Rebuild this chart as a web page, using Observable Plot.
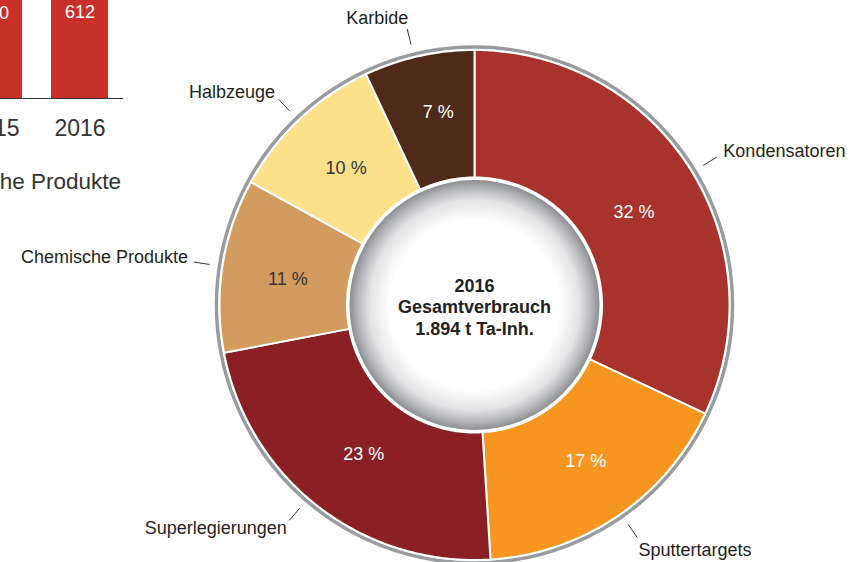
<!DOCTYPE html>
<html><head><meta charset="utf-8">
<script src="https://cdn.jsdelivr.net/npm/d3@7"></script>
<script src="https://cdn.jsdelivr.net/npm/@observablehq/plot@0.6"></script>
<style>
html,body{margin:0;padding:0;background:#fff;}
#stage{position:relative;width:863px;height:562px;overflow:hidden;font-family:"Liberation Sans",Arial,sans-serif;}
#stage svg{position:absolute;left:0;top:0;}
#barTitle{position:absolute;right:742px;top:170px;font-size:22.5px;line-height:24px;color:#333;white-space:nowrap;}
</style></head><body><div id="stage"><div id="barTitle"></div></div>
<script>
// ---- data ----
const categories = ["Kondensatoren","Sputtertargets","Superlegierungen","Chemische Produkte","Halbzeuge","Karbide"];
const shares = [32,17,23,11,10,7];
const centerLines = ["2016","Gesamtverbrauch","1.894 t Ta-Inh."];
const barYears = ["2015","2016"];
const barValues = [610,612];
const barTitle = "Chemische Produkte";

// ---- styles ----
const sliceColors = ["#a8332d","#f4961f","#8a1f24","#d39c5f","#fde08a","#502a18"];
const percentInk = ["#ffffff","#ffffff","#ffffff","#333333","#333333","#ffffff"];
const FONT = '"Liberation Sans", Arial, sans-serif';

// ---- layout ----
const W = 863, H = 562;
const cx = 474, cy = 304.5;
const rOuter = 255, rInner = 127.5, rRing = 258, rHole = 125;
const rPct = 189, rLead0 = 268, rLead1 = 284, rLabel = 290;
const labelNudge = {
  "Karbide": [-3,-4], "Kondensatoren": [4,2], "Sputtertargets": [1,5],
  "Chemische Produkte": [0,-2], "Halbzeuge": [-1,-1], "Superlegierungen": [-10,-6]
};
const pctNudge = {
  "Karbide": [5,-8], "Kondensatoren": [0,9], "Sputtertargets": [5,0],
  "Chemische Produkte": [0,4], "Halbzeuge": [1,1], "Superlegierungen": [5,0]
};
const leaderTurnDeg = {
  "Karbide": -1.1, "Kondensatoren": 1, "Sputtertargets": -0.8,
  "Chemische Produkte": -0.3, "Halbzeuge": -0.4, "Superlegierungen": 2.9
};

const pt = (r, a) => ({x: cx + r * Math.sin(a), y: cy - r * Math.cos(a)});
const lead = d => d.mid + leaderTurnDeg[d.name] * Math.PI / 180;

const rows = categories.map((name, i) => ({name, share: shares[i], color: sliceColors[i], ink: percentInk[i]}));
const arcs = d3.pie().sort(null).value(d => d.share)(rows);
const slices = arcs.map(a => {
  const step = Math.PI / 360;
  const n = Math.max(2, Math.ceil((a.endAngle - a.startAngle) / step) + 1);
  const outer = d3.range(n).map(k => pt(rOuter, a.startAngle + (a.endAngle - a.startAngle) * k / (n - 1)));
  const inner = d3.range(n).map(k => pt(rInner, a.endAngle - (a.endAngle - a.startAngle) * k / (n - 1)));
  const mid = (a.startAngle + a.endAngle) / 2;
  return {...a.data, mid, points: [...outer, ...inner, outer[0]]};
});
const hub = [{x: cx, y: cy}];

const donut = Plot.plot({
  width: W, height: H, margin: 0,
  x: {domain: [0, W], range: [0, W], axis: null},
  y: {domain: [0, H], range: [0, H], axis: null},
  color: {type: "identity"},
  style: {background: "transparent", fontFamily: FONT},
  marks: [
    Plot.dot(hub, {x: "x", y: "y", r: rRing, stroke: "#9a9b9e", strokeWidth: 3.5, fill: "none"}),
    ...slices.map(s => Plot.line(s.points, {x: "x", y: "y", fill: s.color, stroke: "#ffffff", strokeWidth: 2, strokeLinejoin: "round"})),
    Plot.dot(hub, {x: "x", y: "y", r: rHole, fill: "url(#hubShade)", stroke: "none"}),
    Plot.text([centerLines.join("\n")], {x: () => cx, y: () => cy + 1.5, text: d => d, lineHeight: 1.19, fontSize: 18, fontWeight: "bold", fill: "#222"}),
    Plot.text(slices, {x: d => pt(rPct, d.mid).x + pctNudge[d.name][0], y: d => pt(rPct, d.mid).y + pctNudge[d.name][1], text: d => `${d.share} %`, fill: "ink", fontSize: 18}),
    Plot.link(slices, {x1: d => pt(rLead0, lead(d)).x, y1: d => pt(rLead0, lead(d)).y, x2: d => pt(rLead1, lead(d)).x, y2: d => pt(rLead1, lead(d)).y, stroke: "#333", strokeWidth: 1}),
    Plot.text(slices.filter(s => Math.sin(s.mid) > 0), {x: d => pt(rLabel, d.mid).x + labelNudge[d.name][0], y: d => pt(rLabel, d.mid).y + labelNudge[d.name][1], text: "name", textAnchor: "start", fontSize: 18, fill: "#231f20"}),
    Plot.text(slices.filter(s => Math.sin(s.mid) <= 0), {x: d => pt(rLabel, d.mid).x + labelNudge[d.name][0], y: d => pt(rLabel, d.mid).y + labelNudge[d.name][1], text: "name", textAnchor: "end", fontSize: 18, fill: "#231f20"})
  ]
});
const grad = d3.select(donut).insert("defs", ":first-child").append("radialGradient").attr("id", "hubShade");
[[0, "#ffffff"], [0.68, "#ffffff"], [0.84, "#e4e4e6"], [0.94, "#b2b3b6"], [1, "#8c8d91"]]
  .forEach(([o, c]) => grad.append("stop").attr("offset", o).attr("stop-color", c));

const barData = barYears.map((year, i) => ({year, value: barValues[i]}));
const bars = Plot.plot({
  width: 174, height: 200, marginLeft: 0, marginRight: 0, marginTop: 5, marginBottom: 92,
  x: {domain: barYears, paddingInner: 0.34, paddingOuter: 0.173, axis: null},
  y: {domain: [0, d3.max(barValues)], axis: null},
  style: {background: "transparent", fontFamily: FONT},
  marks: [
    Plot.barY(barData, {x: "year", y: "value", fill: "#c9302a"}),
    Plot.text(barData, {x: "year", y: "value", text: d => String(d.value), dy: 17, fill: "#ffffff", fontSize: 18}),
    Plot.ruleY([0], {stroke: "#333", strokeWidth: 1}),
    Plot.text(barData, {x: "year", y: 0, text: "year", dy: 30, fontSize: 23, fill: "#333"})
  ]
});
bars.style.left = "-51.5px";
bars.style.top = "-10px";

const stage = document.getElementById("stage");
stage.appendChild(donut);
stage.appendChild(bars);
document.getElementById("barTitle").textContent = barTitle;
</script></body></html>
